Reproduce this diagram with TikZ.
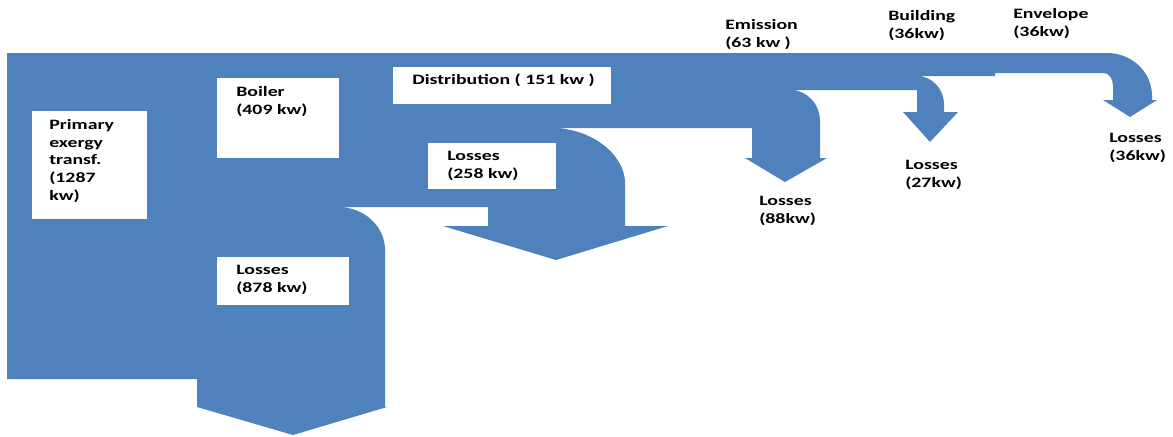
\documentclass[tikz,border=0pt]{standalone}
\usepackage{fontspec}
\setmainfont{Carlito}[FakeStretch=1.38]
\usetikzlibrary{positioning, fit}
\definecolor{flowblue}{RGB}{79,129,189}

\begin{document}
\begin{tikzpicture}[
  x=0.025cm, y=-0.025cm,
  flow/.style={fill=flowblue, draw=none},
  txtbox/.style={draw=none, fill=white, inner sep=0pt, outer sep=0pt},
  lbl/.style={inner sep=0pt, anchor=north west, align=left,
              font=\fontsize{10.2}{12.6}\selectfont\bfseries}
]
\useasboundingbox (0,0) rectangle (1173,436);

%--- Exergy flow band ---
\path[flow] (7,53) -- (1107,53) .. controls (1132,53) and (1152,72) .. (1152,96)
  -- (1152,100) -- (1157,100) -- (1130,117) -- (1103,100) -- (1113,100)
  -- (1113,86) .. controls (1113,79) and (1109,73) .. (1104,73)
  -- (995,73) -- (995,76) -- (917,76) .. controls (932,76) and (944,89) .. (944,104)
  -- (944,112) -- (958,112) -- (930,142) -- (903,112) -- (917,112)
  -- (917,90) -- (790,90) .. controls (807,90) and (820,104) .. (820,121)
  -- (820,158) -- (827,158) -- (785,182) -- (745,158) -- (752,158)
  -- (752,128) -- (552,128) .. controls (592,128) and (625,155) .. (625,183)
  -- (625,226) -- (668,226) -- (556,260) -- (443,226) -- (488,226)
  -- (488,207) -- (338,207) .. controls (364,207) and (385,226) .. (385,250)
  -- (385,407) -- (387,407) -- (293,435) -- (197,407)
  -- (197,379) -- (7,379) -- cycle;

%--- Text boxes ---
\node[txtbox, fit={(32,111) (147,219)}] (prim) {};
\node[txtbox, fit={(217,78) (339,158)}] (boil) {};
\node[txtbox, fit={(393,67) (611,104)}] (dist) {};
\node[txtbox, fit={(428,143) (556,189)}] (loss258) {};
\node[txtbox, fit={(217,257) (349,305)}] (loss878) {};

\node[lbl] (primtxt) at ([shift={(17,8)}]prim.north west) {Primary\\exergy\\transf.\\(1287\\kw)};
\node[lbl] (boiltxt) at ([shift={(19,8)}]boil.north west) {Boiler\\(409 kw)};
\node[lbl] (disttxt) at ([shift={(19,7)}]dist.north west) {Distribution ( 151 kw )};
\node[lbl] (l258txt) at ([shift={(19,8)}]loss258.north west) {Losses\\(258 kw)};
\node[lbl] (l878txt) at ([shift={(19,8)}]loss878.north west) {Losses\\(878 kw)};

%--- Free labels ---
\node[lbl] (emis) at (725,19) {Emission\\(63 kw )};
\node[lbl] (bldg) at (888,10) {Building\\(36kw)};
\node[lbl] (env) at (1013,8) {Envelope\\(36kw)};
\node[lbl] (loss88) at (759,196) {Losses\\(88kw)};
\node[lbl] (loss27) at (905,160) {Losses\\(27kw)};
\node[lbl] (loss36) at (1109,133) {Losses\\(36kw)};

\end{tikzpicture}
\end{document}
